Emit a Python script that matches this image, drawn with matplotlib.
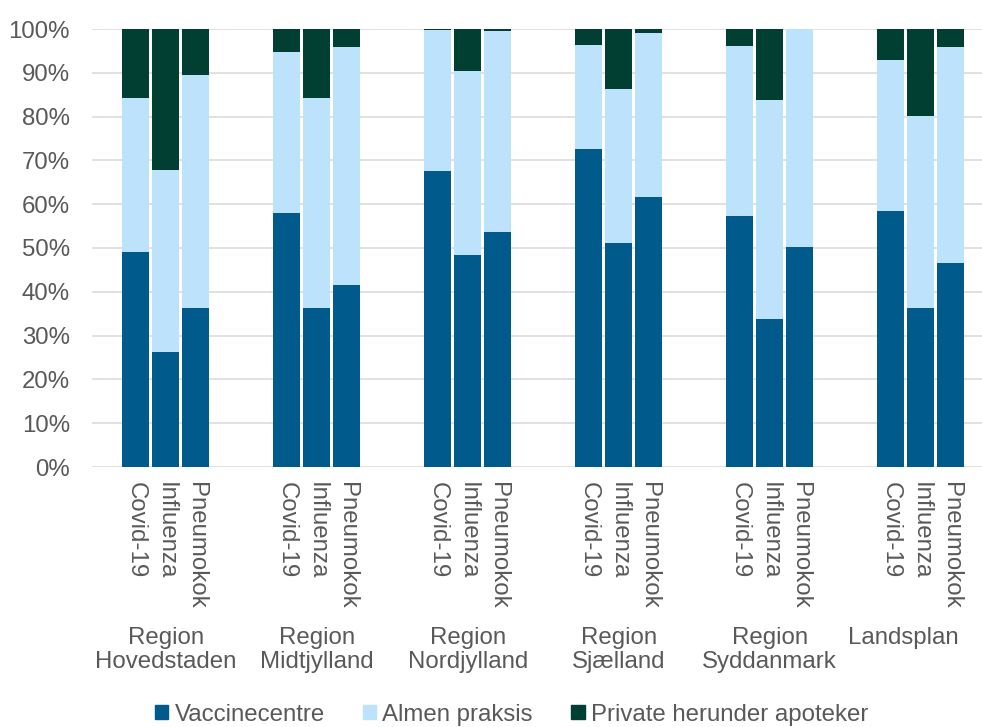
import matplotlib.pyplot as plt
import numpy as np
from matplotlib.patches import Patch

plt.rcParams["font.family"] = ["Liberation Sans", "DejaVu Sans"]

regions = [
    "Region\nHovedstaden",
    "Region\nMidtjylland",
    "Region\nNordjylland",
    "Region\nSjælland",
    "Region\nSyddanmark",
    "Landsplan",
]
vaccines = ["Covid-19", "Influenza", "Pneumokok"]

# share per region, in the order Covid-19, Influenza, Pneumokok (percent)
vaccinecentre = [
    [49.0, 26.2, 36.4],
    [57.9, 36.4, 41.6],
    [67.6, 48.3, 53.6],
    [72.6, 51.2, 61.6],
    [57.2, 33.9, 50.2],
    [58.5, 36.2, 46.6],
]
almen_praksis = [
    [35.3, 41.7, 53.2],
    [36.9, 47.8, 54.2],
    [32.2, 42.0, 46.0],
    [23.8, 35.2, 37.5],
    [39.0, 49.9, 49.7],
    [34.4, 43.9, 49.3],
]
private = [
    [15.7, 32.1, 10.4],
    [5.2, 15.8, 4.2],
    [0.2, 9.7, 0.4],
    [3.6, 13.6, 0.9],
    [3.8, 16.2, 0.1],
    [7.1, 19.9, 4.1],
]

c_vc = "#005A8C"
c_ap = "#BDE2FB"
c_pr = "#023F33"
txt = "#595959"
fs = 17.3

# 3 bars per region, then two empty slots before the next region
x = np.array([g * 5 + i for g in range(len(regions)) for i in range(3)], dtype=float)
vc = np.array(vaccinecentre).ravel()
ap = np.array(almen_praksis).ravel()
pr = np.array(private).ravel()

fig = plt.figure(figsize=(9.82, 7.27), dpi=100)
ax = fig.add_axes([92 / 982, 260 / 727, 890 / 982, 438 / 727])

w = 0.89
ax.bar(x, vc, width=w, color=c_vc, zorder=3)
ax.bar(x, ap, width=w, bottom=vc, color=c_ap, zorder=3)
ax.bar(x, pr, width=w, bottom=vc + ap, color=c_pr, zorder=3)

ax.set_xlim(-1.44, 28.03)
ax.set_ylim(0, 100)
ax.set_yticks(np.arange(0, 101, 10))
ax.set_yticklabels([f"{v}%" for v in range(0, 101, 10)])
ax.yaxis.grid(True, color="#d9d9d9", linewidth=1.1, zorder=0)
ax.set_axisbelow(True)
for s in ax.spines.values():
    s.set_visible(False)

ax.set_xticks(x)
ax.set_xticklabels(vaccines * len(regions), rotation=-90)
ax.tick_params(axis="x", length=0, pad=11, labelsize=fs, labelcolor=txt)
ax.tick_params(axis="y", length=0, pad=16, labelsize=fs, labelcolor=txt)

# region names under each group
for g, name in enumerate(regions):
    cx = g * 5 + 1
    if name == "Landsplan":
        cx -= 0.56
    ax.text(cx, -0.366, name, transform=ax.get_xaxis_transform(),
            ha="center", va="top", fontsize=fs, color=txt, linespacing=1.1)

handles = [
    Patch(color=c_vc, label="Vaccinecentre"),
    Patch(color=c_ap, label="Almen praksis"),
    Patch(color=c_pr, label="Private herunder apoteker"),
]
fig.legend(handles=handles, loc="center", bbox_to_anchor=(0.521, 0.017), ncol=3,
           frameon=False, fontsize=fs, labelcolor=txt, handlelength=0.55,
           handleheight=0.55, handletextpad=0.25, columnspacing=1.6)

fig.savefig("out.png", dpi=100)
